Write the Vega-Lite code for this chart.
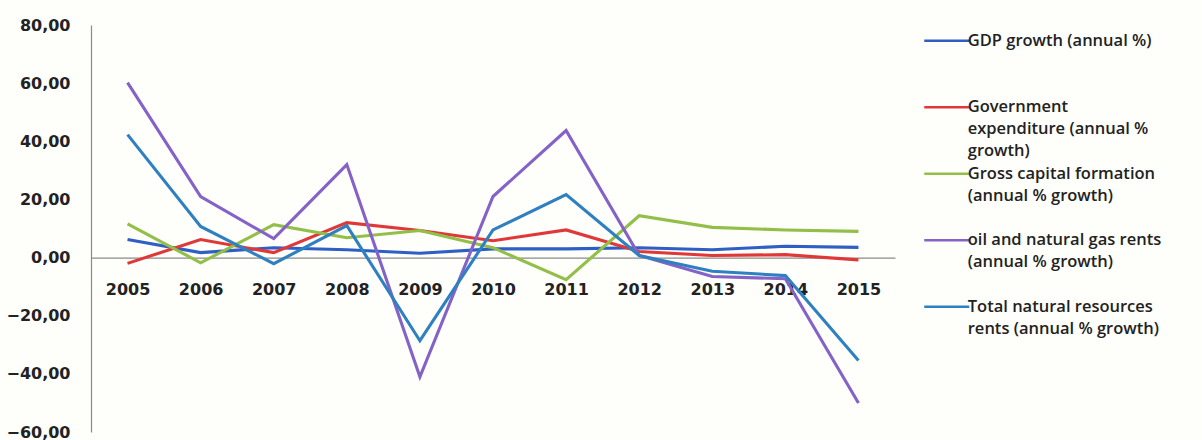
{
  "$schema": "https://vega.github.io/schema/vega-lite/v6.json",
  "width": 804,
  "height": 407,
  "autosize": {"type": "none"},
  "padding": {"left": 91, "top": 25, "right": 307, "bottom": 8},
  "background": "#fefefb",
  "config": {
    "view": {"stroke": null},
    "style": {"guide-label": {"lineHeight": 22}}
  },
  "datasets": {
    "rows": [
      {"year": "2005", "series": "GDP growth (annual %)", "value": 6.2},
      {"year": "2006", "series": "GDP growth (annual %)", "value": 1.7},
      {"year": "2007", "series": "GDP growth (annual %)", "value": 3.4},
      {"year": "2008", "series": "GDP growth (annual %)", "value": 2.7},
      {"year": "2009", "series": "GDP growth (annual %)", "value": 1.5},
      {"year": "2010", "series": "GDP growth (annual %)", "value": 3.0},
      {"year": "2011", "series": "GDP growth (annual %)", "value": 3.0},
      {"year": "2012", "series": "GDP growth (annual %)", "value": 3.4},
      {"year": "2013", "series": "GDP growth (annual %)", "value": 2.7},
      {"year": "2014", "series": "GDP growth (annual %)", "value": 3.9},
      {"year": "2015", "series": "GDP growth (annual %)", "value": 3.5},
      {"year": "2005", "series": "Government expenditure (annual % growth)", "value": -2.0},
      {"year": "2006", "series": "Government expenditure (annual % growth)", "value": 6.2},
      {"year": "2007", "series": "Government expenditure (annual % growth)", "value": 1.7},
      {"year": "2008", "series": "Government expenditure (annual % growth)", "value": 12.0},
      {"year": "2009", "series": "Government expenditure (annual % growth)", "value": 9.3},
      {"year": "2010", "series": "Government expenditure (annual % growth)", "value": 5.8},
      {"year": "2011", "series": "Government expenditure (annual % growth)", "value": 9.5},
      {"year": "2012", "series": "Government expenditure (annual % growth)", "value": 2.1},
      {"year": "2013", "series": "Government expenditure (annual % growth)", "value": 0.7},
      {"year": "2014", "series": "Government expenditure (annual % growth)", "value": 1.0},
      {"year": "2015", "series": "Government expenditure (annual % growth)", "value": -0.8},
      {"year": "2005", "series": "Gross capital formation (annual % growth)", "value": 11.6},
      {"year": "2006", "series": "Gross capital formation (annual % growth)", "value": -1.8},
      {"year": "2007", "series": "Gross capital formation (annual % growth)", "value": 11.3},
      {"year": "2008", "series": "Gross capital formation (annual % growth)", "value": 6.8},
      {"year": "2009", "series": "Gross capital formation (annual % growth)", "value": 9.3},
      {"year": "2010", "series": "Gross capital formation (annual % growth)", "value": 3.4},
      {"year": "2011", "series": "Gross capital formation (annual % growth)", "value": -7.6},
      {"year": "2012", "series": "Gross capital formation (annual % growth)", "value": 14.4},
      {"year": "2013", "series": "Gross capital formation (annual % growth)", "value": 10.4},
      {"year": "2014", "series": "Gross capital formation (annual % growth)", "value": 9.5},
      {"year": "2015", "series": "Gross capital formation (annual % growth)", "value": 9.0},
      {"year": "2005", "series": "oil and natural gas rents (annual % growth)", "value": 60.2},
      {"year": "2006", "series": "oil and natural gas rents (annual % growth)", "value": 21.0},
      {"year": "2007", "series": "oil and natural gas rents (annual % growth)", "value": 6.5},
      {"year": "2008", "series": "oil and natural gas rents (annual % growth)", "value": 32.0},
      {"year": "2009", "series": "oil and natural gas rents (annual % growth)", "value": -41.0},
      {"year": "2010", "series": "oil and natural gas rents (annual % growth)", "value": 21.0},
      {"year": "2011", "series": "oil and natural gas rents (annual % growth)", "value": 43.7},
      {"year": "2012", "series": "oil and natural gas rents (annual % growth)", "value": 0.7},
      {"year": "2013", "series": "oil and natural gas rents (annual % growth)", "value": -6.5},
      {"year": "2014", "series": "oil and natural gas rents (annual % growth)", "value": -7.3},
      {"year": "2015", "series": "oil and natural gas rents (annual % growth)", "value": -50.0},
      {"year": "2005", "series": "Total natural resources rents (annual % growth)", "value": 42.3},
      {"year": "2006", "series": "Total natural resources rents (annual % growth)", "value": 10.7},
      {"year": "2007", "series": "Total natural resources rents (annual % growth)", "value": -2.1},
      {"year": "2008", "series": "Total natural resources rents (annual % growth)", "value": 11.0},
      {"year": "2009", "series": "Total natural resources rents (annual % growth)", "value": -28.6},
      {"year": "2010", "series": "Total natural resources rents (annual % growth)", "value": 9.5},
      {"year": "2011", "series": "Total natural resources rents (annual % growth)", "value": 21.7},
      {"year": "2012", "series": "Total natural resources rents (annual % growth)", "value": 0.7},
      {"year": "2013", "series": "Total natural resources rents (annual % growth)", "value": -4.7},
      {"year": "2014", "series": "Total natural resources rents (annual % growth)", "value": -6.2},
      {"year": "2015", "series": "Total natural resources rents (annual % growth)", "value": -35.4}
    ]
  },
  "data": {"name": "rows"},
  "mark": {"type": "line", "strokeWidth": 3.1, "strokeJoin": "miter"},
  "encoding": {
    "x": {
      "field": "year",
      "type": "ordinal",
      "scale": {"type": "point", "padding": 0.5},
      "axis": {
        "title": null,
        "orient": "bottom",
        "offset": -174.43,
        "domainColor": "#8a8a8a",
        "domainWidth": 1.2,
        "ticks": false,
        "labelAngle": 0,
        "labelPadding": 24,
        "labelFont": "DejaVu Sans",
        "labelFontWeight": "bold",
        "labelFontSize": 16,
        "labelColor": "#222222"
      }
    },
    "y": {
      "field": "value",
      "type": "quantitative",
      "scale": {"domain": [-60, 80], "nice": false, "zero": false},
      "axis": {
        "title": null,
        "values": [-60, -40, -20, 0, 20, 40, 60, 80],
        "labelExpr": "replace(format(datum.value, '.2f'), '.', ',')",
        "grid": false,
        "ticks": false,
        "domainColor": "#8a8a8a",
        "domainWidth": 1.2,
        "labelPadding": 21,
        "labelFont": "DejaVu Sans",
        "labelFontWeight": "bold",
        "labelFontSize": 16,
        "labelColor": "#222222"
      }
    },
    "color": {
      "field": "series",
      "type": "nominal",
      "scale": {
        "domain": [
          "GDP growth (annual %)",
          "Government expenditure (annual % growth)",
          "Gross capital formation (annual % growth)",
          "oil and natural gas rents (annual % growth)",
          "Total natural resources rents (annual % growth)"
        ],
        "range": ["#2f5fc4", "#e03838", "#92bf48", "#8462c8", "#2f80c0"]
      },
      "legend": {
        "title": null,
        "orient": "none",
        "legendX": 832,
        "legendY": 3.25,
        "padding": 0,
        "gridAlign": "all",
        "rowPadding": 1.5,
        "symbolType": "M-2,0H2",
        "symbolSize": 506,
        "symbolOffset": 11.25,
        "symbolStrokeWidth": 2.5,
        "labelOffset": 8.5,
        "labelFont": "Open Sans",
        "labelFontWeight": 600,
        "labelFontSize": 16.5,
        "labelColor": "#222222",
        "labelLimit": 0,
        "labelBaseline": "top",
        "encoding": {"labels": {"dy": {"value": -8}}},
        "labelExpr": "datum.label == 'Government expenditure (annual % growth)' ? ['Government', 'expenditure (annual %', 'growth)'] : datum.label == 'Gross capital formation (annual % growth)' ? ['Gross capital formation', '(annual % growth)'] : datum.label == 'oil and natural gas rents (annual % growth)' ? ['oil and natural gas rents', '(annual % growth)'] : datum.label == 'Total natural resources rents (annual % growth)' ? ['Total natural resources', 'rents  (annual % growth)'] : datum.label"
      }
    }
  }
}
